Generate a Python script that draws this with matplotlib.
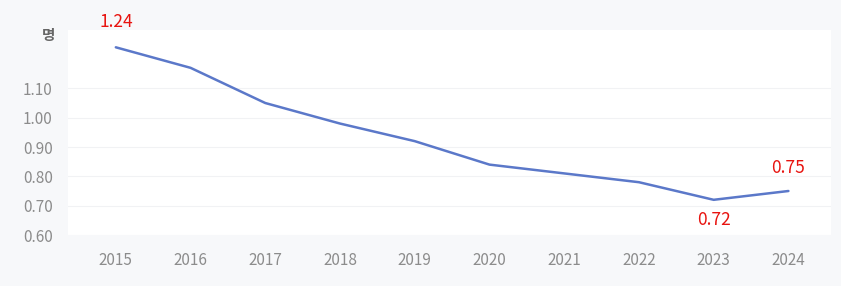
import matplotlib
matplotlib.use("Agg")
import matplotlib.pyplot as plt

years = [2015, 2016, 2017, 2018, 2019, 2020, 2021, 2022, 2023, 2024]
rates = [1.24, 1.17, 1.05, 0.98, 0.92, 0.84, 0.81, 0.78, 0.72, 0.75]
y_ticks = [0.60, 0.70, 0.80, 0.90, 1.00, 1.10]
unit_label = "명"

# which points get a red value label, and how far (points) above/below
labelled = {2015: 18, 2023: -14.5, 2024: 16.5}

plt.rcParams["font.family"] = ["Noto Sans CJK KR", "DejaVu Sans"]

fig = plt.figure(figsize=(8.41, 2.86), dpi=100)
fig.patch.set_facecolor("#f7f8fa")

W, H = 841, 286
ax = fig.add_axes([68 / W, (H - 235) / H, (831 - 68) / W, (235 - 30) / H])
ax.set_facecolor("white")

ax.plot(years, rates, color="#5b78c9", linewidth=1.8, solid_capstyle="round")

for year, rate in zip(years, rates):
    dy = labelled.get(year)
    if dy is None:
        continue
    ax.annotate(f"{rate:.2f}", (year, rate), xytext=(0, dy), textcoords="offset points",
                ha="center", va="center", color="#e8130f", fontsize=12.5)

ax.set_xlim(2014.36, 2024.57)
ax.set_ylim(0.607, 1.299)
ax.set_xticks(years)
ax.set_yticks(y_ticks)
ax.set_yticklabels([f"{t:.2f}" for t in y_ticks])
ax.grid(axis="y", color="#f1f2f4", linewidth=0.8)
ax.set_axisbelow(True)
ax.tick_params(length=0, labelsize=11, labelcolor="#8c8c8c")
ax.tick_params(axis="x", pad=12)
ax.tick_params(axis="y", pad=11)
for spine in ax.spines.values():
    spine.set_visible(False)

fig.text(49 / W, 1 - 35 / H, unit_label, ha="center", va="center",
         fontsize=10.5, fontweight="bold", color="#666666")

fig.savefig("out.png", dpi=100, facecolor=fig.get_facecolor())
